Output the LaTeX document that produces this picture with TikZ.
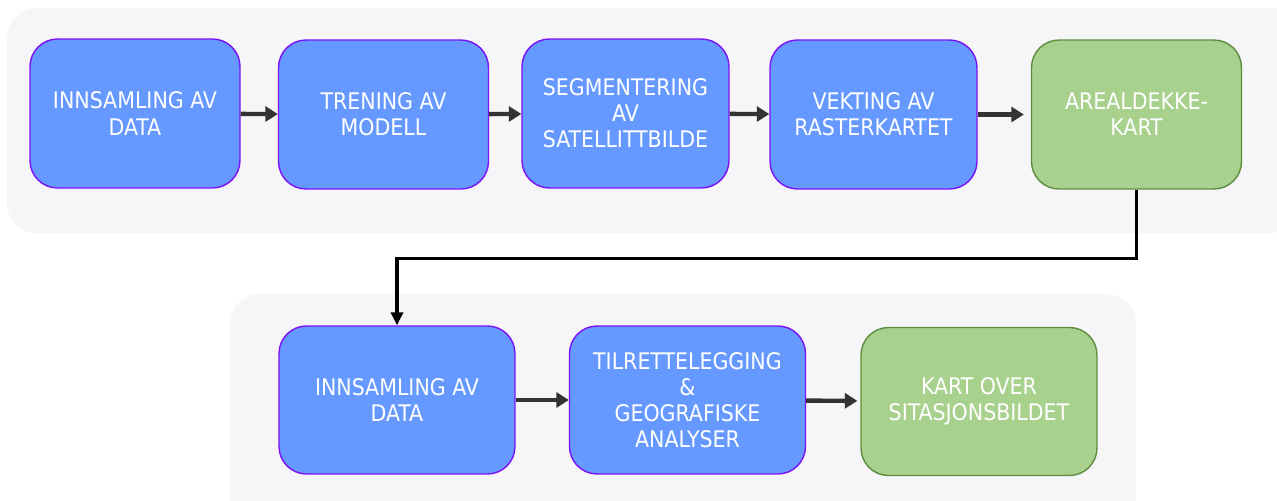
\documentclass[tikz,border=0pt]{standalone}
\usepackage{fontspec}
\setmainfont{DejaVu Sans Condensed}
\usetikzlibrary{arrows.meta, positioning}
\definecolor{stepblue}{HTML}{6699FF}
\definecolor{stepedge}{HTML}{7A12F5}
\definecolor{resgreen}{HTML}{A9D18E}
\definecolor{resedge}{HTML}{5E8C3F}
\definecolor{panelgray}{HTML}{F6F6F8}
\definecolor{flowgray}{HTML}{333333}

\begin{document}
\begin{tikzpicture}[x=0.02cm, y=-0.02cm,
  box/.style={rectangle, rounded corners=0.55cm, draw=stepedge, line width=0.8pt,
    fill=stepblue, text=white, align=center,
    font=\fontsize{13}{14.9}\selectfont, minimum width=4.2cm, minimum height=2.98cm},
  widebox/.style={box, minimum width=4.72cm, minimum height=2.96cm},
  result/.style={draw=resedge, fill=resgreen},
  flow/.style={draw=flowgray, line width=2.5pt, -{Triangle[length=0.25cm, width=0.3cm]}},
  link/.style={draw=black, line width=1.9pt, -{Triangle[length=0.26cm, width=0.24cm]}}]
  \clip (0,0) rectangle (1277,500);

  % panels
  \fill[panelgray, rounded corners=0.6cm] (7,8) rectangle (1300,233);
  \fill[panelgray, rounded corners=0.6cm] (230,294) rectangle (1136,530);

  \node[box] (a1) at (135,113.5) {INNSAMLING AV\\DATA};
  \node[box] (a2) at (383.5,114.5) {TRENING AV\\MODELL};
  \node[box, minimum width=4.14cm] (a3) at (625.5,113.5) {SEGMENTERING\\AV\\SATELLITTBILDE};
  \node[box, minimum width=4.14cm] (a4) at (873.5,114.5) {VEKTING AV\\RASTERKARTET};
  \node[box, result] (a5) at (1136.5,114.5) {AREALDEKKE-\\KART};

  \node[widebox] (b1) at (397,400) {INNSAMLING AV\\DATA};
  \node[widebox] (b2) at (687.5,400) {TILRETTELEGGING\\\&\\GEOGRAFISKE\\ANALYSER};
  \node[widebox, result] (b3) at (979,401.5) {KART OVER\\SITASJONSBILDET};

  % steps
  \path[flow] (a1) -- (a2);
  \path[flow] (a2) -- (a3);
  \path[flow] (a3) -- (a4);
  \path[flow, shorten >=0.14cm] (a4) -- (a5);
  \path[flow] (b1) -- (b2);
  \path[flow, shorten >=0.06cm] (b2) -- (b3);

  % to second row
  \path[link] (a5.south) -- ++(0,69) -| (b1.north);
\end{tikzpicture}
\end{document}
